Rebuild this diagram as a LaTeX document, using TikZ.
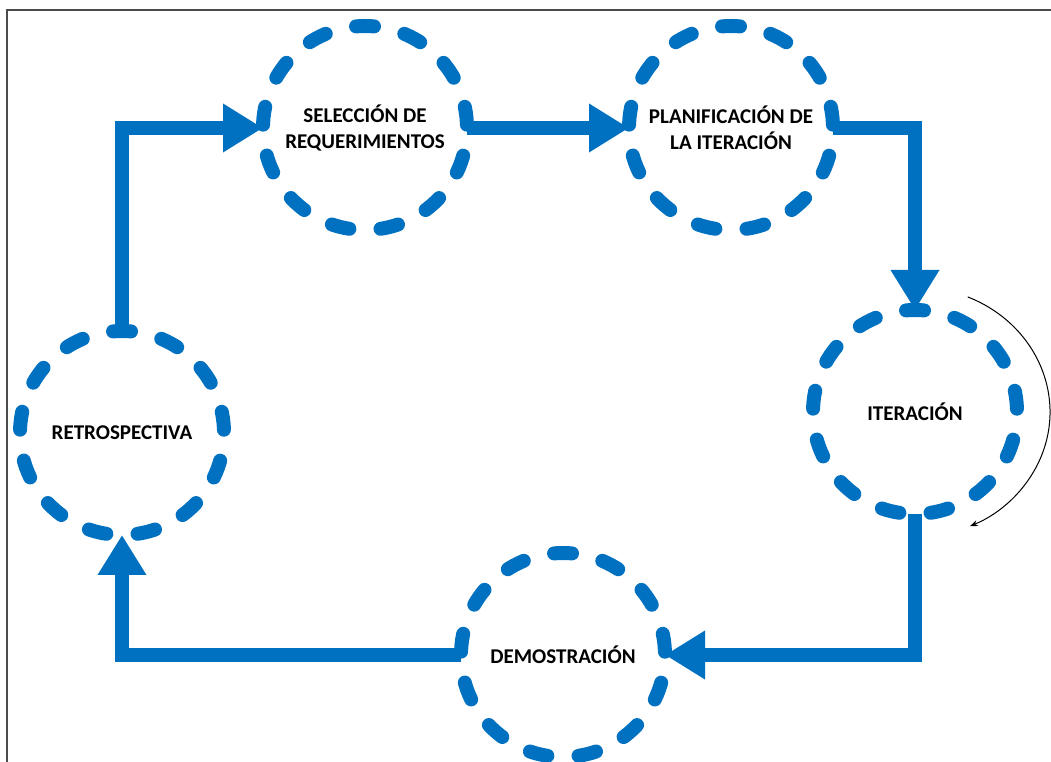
\documentclass[tikz,border=0pt]{standalone}
\usepackage{fontspec}
\setmainfont{Carlito}
\usetikzlibrary{arrows.meta, positioning, calc}

\definecolor{cycleblue}{RGB}{0,112,192}

\begin{document}
\begin{tikzpicture}[
    x=1pt, y=1pt,
    every node/.style={font=\fontsize{21}{26}\selectfont\bfseries, align=center}, % bold labels
    stage/.style={circle, minimum size=204pt, inner sep=0pt, outer sep=0pt,
        draw=cycleblue, text=black, line width=14pt, line cap=round,
        dash pattern=on 18pt off 31.3pt, dash phase=46pt}, % dashed ring, 13 dashes, one at north
    flow/.style={cycleblue, line width=14pt, -{Triangle[length=40pt, width=46pt]}}, % thick arrow
    turn/.style={black, line width=1pt, -{Stealth[length=8pt, width=6pt]}}, % thin arc arrow
    frame/.style={black!70, line width=1.5pt}
]
    \useasboundingbox (0,0) rectangle (1051,762);
    % 1. frame (top and left edges)
    \draw[frame] (7,0) |- (1051,752);

    % 2. stages
    \node[stage] (sel)   at (365,634) {SELECCIÓN DE\\REQUERIMIENTOS};
    \node[stage] (plan)  at (731,634) {PLANIFICACIÓN DE\\LA ITERACIÓN};
    \node[stage] (iter)  at (915,350) {ITERACIÓN};
    \node[stage] (demo)  at (563,107) {DEMOSTRACIÓN};
    \node[stage] (retro) at (122,329) {RETROSPECTIVA};

    % 3. cycle arrows
    \draw[flow] (retro.north) |- (sel.west);
    \draw[flow] (sel.east) -- (plan.west);
    \draw[flow] (plan.east) -| (iter.north);
    \draw[flow] (iter.south) |- (demo.east);
    \draw[flow] (demo.west) -| (retro.south);

    % 4. repeat arc round the iteration
    \coordinate (turnstart) at ($(iter.center)+(67:135 and 125)$);
    \draw[turn] (turnstart) arc[start angle=67, end angle=-66, x radius=135, y radius=125];
\end{tikzpicture}
\end{document}
